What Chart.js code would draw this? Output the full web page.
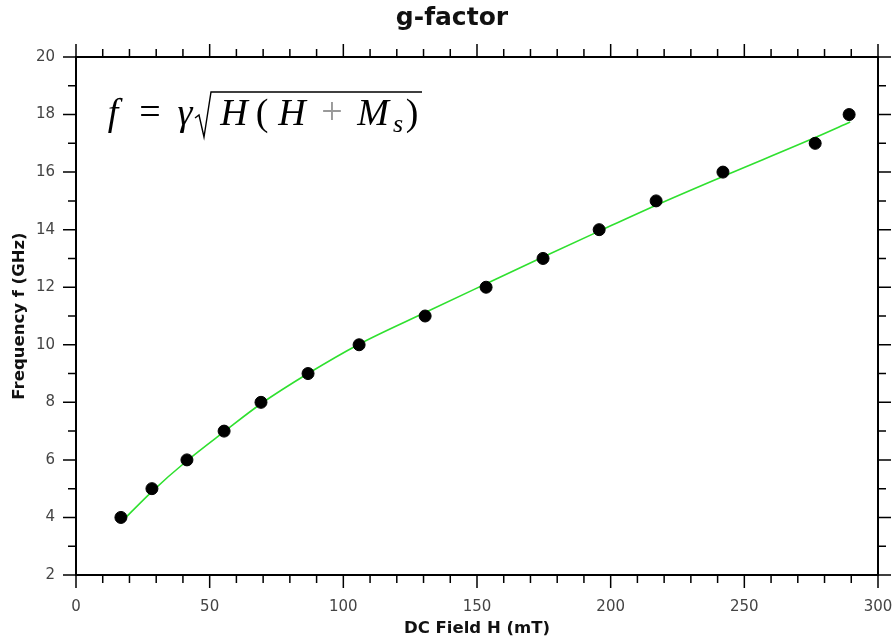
<!DOCTYPE html>
<html>
<head>
<meta charset="utf-8">
<script src="https://cdn.jsdelivr.net/npm/chart.js@4/dist/chart.umd.min.js"></script>
<style>
  html, body { margin: 0; padding: 0; background: #fff; }
  #wrap { width: 896px; height: 641px; }
</style>
</head>
<body>
<div id="wrap"><canvas id="gChart" width="896" height="641"></canvas></div>
<script>
// measured points
const fieldH = [16.8, 28.4, 41.5, 55.4, 69.2, 86.8, 105.9, 130.6, 153.4, 174.7, 195.7, 217.0, 242.0, 276.5, 289.2];
const freq = [4, 5, 6, 7, 8, 9, 10, 11, 12, 13, 14, 15, 16, 17, 18];

// fit curve
const fitH = [16.7, 28.4, 41.5, 55.4, 69.2, 86.8, 105.9, 130.6, 153.4, 174.7, 195.7, 217.0, 242.0, 276.5, 289.6];
const fitFreq = [3.82, 4.9, 5.97, 6.98, 7.95, 9.0, 10.02, 11.12, 12.12, 13.05, 13.95, 14.85, 15.85, 17.2, 17.74];

// axis ticks
const xMajor = [0, 50, 100, 150, 200, 250, 300];
const yMajor = [2, 4, 6, 8, 10, 12, 14, 16, 18, 20];

const chartTitle = 'g-factor';
const FONT = 'DejaVu Sans';

//title, frame, minor/major ticks on all four sides and the formula
const framePlugin = {
  id: 'frame',
  afterDraw(chart) {
    const ctx = chart.ctx;
    const a = chart.chartArea;
    const xs = chart.scales.x, ys = chart.scales.y;
    ctx.save();

    ctx.fillStyle = '#111';
    ctx.font = 'bold 25px "' + FONT + '"';
    ctx.textAlign = 'center';
    ctx.textBaseline = 'middle';
    ctx.fillText(chartTitle, 452, 18);

    ctx.strokeStyle = '#000';
    ctx.lineWidth = 1.5;
    ctx.beginPath();
    for (let v = 0; v <= 300; v += 10) {
      const px = xs.getPixelForValue(v);
      const len = xMajor.includes(v) ? 13 : 8;
      ctx.moveTo(px, a.bottom); ctx.lineTo(px, a.bottom + len);
      ctx.moveTo(px, a.top); ctx.lineTo(px, a.top - len);
    }
    for (let v = 2; v <= 20; v += 1) {
      const py = ys.getPixelForValue(v);
      const len = yMajor.includes(v) ? 13 : 8;
      ctx.moveTo(a.left, py); ctx.lineTo(a.left - len, py);
      ctx.moveTo(a.right, py); ctx.lineTo(a.right + len, py);
    }
    ctx.stroke();
    ctx.lineWidth = 2;
    ctx.strokeRect(a.left, a.top, a.right - a.left, a.bottom - a.top);

    // formula f = γ√(H(H + Ms)), glyphs centred where the reference has them
    const base = 125;
    ctx.textBaseline = 'alphabetic';
    const it = 'italic 38px "Liberation Serif"';
    const up = '38px "Liberation Serif"';
    const put = (t, f, x, y, c) => { ctx.font = f; ctx.fillStyle = c || '#000'; ctx.fillText(t, x, y); };
    put('f', it, 113, base);
    put('=', up, 150, base - 1);
    put('\u03B3', it, 185, base);
    put('H', it, 234, base);
    put('(', up, 262, base);
    put('H', it, 292, base);
    put('+', up, 332, base - 1, '#999');
    put('M', it, 373, base);
    put('s', 'italic 26px "Liberation Serif"', 398, base + 7);
    put(')', up, 412, base);
    // radical sign with its bar
    ctx.lineWidth = 1.4;
    ctx.beginPath();
    ctx.moveTo(195, 118); ctx.lineTo(199, 115); ctx.lineTo(204, 137);
    ctx.lineTo(211, 92); ctx.lineTo(422, 92);
    ctx.stroke();
    ctx.restore();
  }
};

new Chart(document.getElementById('gChart'), {
  type: 'scatter',
  data: {
    datasets: [
      {
        label: 'fit',
        type: 'line',
        data: fitH.map((h, i) => ({ x: h, y: fitFreq[i] })),
        borderColor: '#2fe02f',
        borderWidth: 1.6,
        pointRadius: 0,
        cubicInterpolationMode: 'monotone',
        fill: false,
        order: 2
      },
      {
        label: 'data',
        data: fieldH.map((h, i) => ({ x: h, y: freq[i] })),
        backgroundColor: '#000',
        borderColor: '#000',
        pointRadius: 6,
        order: 1
      }
    ]
  },
  options: {
    responsive: false,
    animation: false,
    layout: { padding: { top: 57, right: 18 } },
    plugins: {
      legend: { display: false },
      tooltip: { enabled: false },
      title: { display: false }
    },
    scales: {
      x: {
        type: 'linear',
        min: 0, max: 300,
        afterFit(s) { s.height = 66; s.paddingLeft = 0; s.paddingRight = 0; },
        afterBuildTicks(s) { s.ticks = xMajor.map(v => ({ value: v })); },
        grid: { display: true, drawOnChartArea: false, tickLength: 14, color: 'transparent', tickColor: 'transparent' },
        border: { display: false },
        ticks: { color: '#444', padding: 9, font: { family: FONT, size: 15 } },
        title: {
          display: true, text: 'DC Field H (mT)', color: '#111',
          font: { family: FONT, size: 16.5, weight: 'bold' },
          padding: { top: 0, bottom: 2 }
        }
      },
      y: {
        type: 'linear',
        min: 2, max: 20,
        afterFit(s) { s.width = 76; s.paddingTop = 0; s.paddingBottom = 0; },
        afterBuildTicks(s) { s.ticks = yMajor.map(v => ({ value: v })); },
        grid: { display: true, drawOnChartArea: false, tickLength: 13, color: 'transparent', tickColor: 'transparent' },
        border: { display: false },
        ticks: { color: '#444', padding: 8, font: { family: FONT, size: 15 } },
        title: {
          display: true, text: 'Frequency f (GHz)', color: '#111',
          font: { family: FONT, size: 16.5, weight: 'bold' },
          padding: { top: 10, bottom: 0 }
        }
      }
    }
  },
  plugins: [framePlugin]
});
</script>
</body>
</html>
